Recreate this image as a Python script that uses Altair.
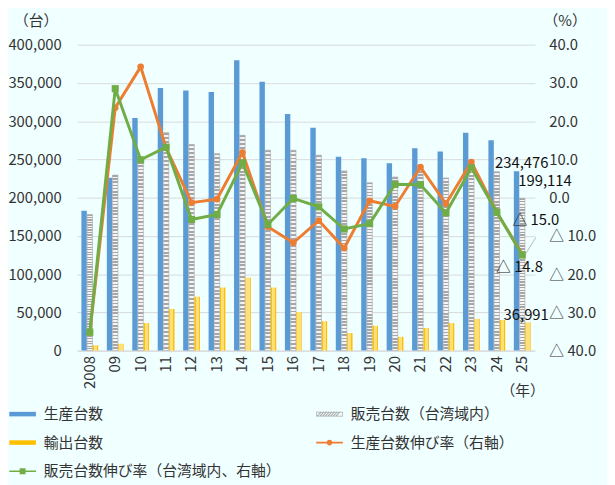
import altair as alt
import pandas as pd

# values
years = ['2008', '09', '10', '11', '12', '13', '14', '15', '16',
         '17', '18', '19', '20', '21', '22', '23', '24', '25']
production = [183000, 226000, 304000, 343500, 340000, 338000, 379500, 351500, 309500,
              291500, 253500, 251500, 245000, 264500, 260500, 285000, 275000, 234476]
sales = [178000, 229500, 251500, 285000, 269500, 257500, 281500, 262000, 262000,
         255500, 235000, 219500, 227000, 235000, 225800, 243000, 234000, 199114]
exports = [7000, 9000, 36000, 54500, 70500, 82500, 95500, 82500, 50500,
           38500, 23000, 32500, 18000, 29500, 36000, 41500, 40000, 36991]
production_growth = [-35.3, 23.5, 34.2, 13.0, -1.3, -0.4, 11.8, -7.6, -11.8,
                     -6.0, -13.2, -0.8, -2.3, 8.0, -1.6, 9.3, -3.8, -14.8]
sales_growth = [-35.2, 28.5, 9.9, 13.2, -5.7, -4.4, 9.1, -7.0, -0.2,
                -2.4, -8.2, -6.8, 3.5, 3.4, -4.0, 7.8, -3.8, -15.0]

S_PROD = '生産台数'
S_SALES = '販売台数（台湾域内）'
S_EXP = '輸出台数'
S_PG = '生産台数伸び率（右軸）'
S_SG = '販売台数伸び率（台湾域内、右軸）'
bar_series = [S_PROD, S_SALES, S_EXP]
legend_series = [S_PROD, S_SALES, S_EXP, S_PG, S_SG]

FONT = 'Noto Sans CJK JP'
TEXT = '#333333'
GRID = '#D9D9D9'
BLUE = '#5B9BD5'
GRAY = '#A6A6A6'
YELLOW = '#FFC000'
ORANGE = '#ED7D31'
GREEN = '#70AD47'

bars_df = pd.concat([
    pd.DataFrame({'year': years, 'series': S_PROD, 'value': production}),
    pd.DataFrame({'year': years, 'series': S_SALES, 'value': sales}),
    pd.DataFrame({'year': years, 'series': S_EXP, 'value': exports}),
], ignore_index=True)

growth_df = pd.concat([
    pd.DataFrame({'year': years, 'series': S_PG, 'value': production_growth}),
    pd.DataFrame({'year': years, 'series': S_SG, 'value': sales_growth}),
], ignore_index=True)


# bar fills: striped gray for sales, light-centred yellow for exports
def stripes(c1, c2, n):
    stops = []
    for i in range(n):
        a, b, c = i / n, (i + 0.5) / n, (i + 1) / n
        stops += [{'offset': round(a, 4), 'color': c1}, {'offset': round(b, 4), 'color': c1},
                  {'offset': round(b, 4), 'color': c2}, {'offset': round(c, 4), 'color': c2}]
    return {'gradient': 'linear', 'x1': 0, 'y1': 0, 'x2': 0, 'y2': 1, 'stops': stops}


hatch = stripes(GRAY, '#F4F4F4', 55)
dotted = {'gradient': 'linear', 'x1': 0, 'y1': 0, 'x2': 1, 'y2': 0, 'stops': [
    {'offset': 0, 'color': YELLOW}, {'offset': 0.2, 'color': YELLOW},
    {'offset': 0.2, 'color': '#FFDF7A'}, {'offset': 0.8, 'color': '#FFDF7A'},
    {'offset': 0.8, 'color': YELLOW}, {'offset': 1, 'color': YELLOW}]}

# legend symbols (custom paths, scaled by the legend symbol size)
rect_path = 'M-1,-0.17H1V0.17H-1Z'
hatch_path = 'M-1,-0.17H1V0.17H-1Z M-0.95,-0.12V0.12H0.95V-0.12Z'
x0 = -0.95
while x0 < 0.62:
    hatch_path += ' M{:.3f},0.12L{:.3f},-0.12L{:.3f},-0.12L{:.3f},0.12Z'.format(
        x0, x0 + 0.24, x0 + 0.34, x0 + 0.1)
    x0 += 0.2
circle_line = 'M-1,-0.06H1V0.06H-1Z M0.22,0A0.22,0.22 0 1,1 -0.22,0A0.22,0.22 0 1,1 0.22,0Z'
square_line = 'M-1,-0.06H1V0.06H-1Z M-0.22,-0.22H0.22V0.22H-0.22Z'

title_style = dict(titleAngle=0, titleAlign='center', titleBaseline='middle',
                   titleFontSize=15, titleFontWeight='normal', titleColor=TEXT, titleFont=FONT)

x_enc = alt.X('year:N', sort=years,
              scale=alt.Scale(paddingInner=0.34, paddingOuter=0.17),
              axis=alt.Axis(labelAngle=270, labelPadding=5, labelFontSize=15, labelColor=TEXT,
                            ticks=False, grid=False, domainColor=GRID, domainWidth=1,
                            labelOverlap=False,
                            title='（年）', titleX=451, titleY=41, **title_style))

y_left = alt.Y('value:Q', scale=alt.Scale(domain=[0, 400000], nice=False),
               axis=alt.Axis(values=list(range(0, 400001, 50000)), format=',.0f',
                             grid=True, gridColor=GRID, gridWidth=1, domain=False, ticks=False,
                             labelOverlap=False,
                             labelPadding=16, labelFontSize=15, labelColor=TEXT,
                             title='（台）', titleX=-42, titleY=-24, **title_style))

y_right = alt.Y('value:Q', scale=alt.Scale(domain=[-40, 40], nice=False),
                axis=alt.Axis(orient='right', values=list(range(-40, 41, 10)), tickCount=9,
                              labelExpr="datum.value < 0 ? '△ ' + format(-datum.value, '.1f') : format(datum.value, '.1f')",
                              grid=False, domain=False, ticks=False, labelOverlap=False,
                              labelPadding=14, labelFontSize=15, labelColor=TEXT,
                              title='（%）', titleX=30, titleY=-24, **title_style))

x_off = alt.XOffset('series:N', scale=alt.Scale(domain=bar_series, paddingInner=0.05, paddingOuter=0))

# left axis group: bars and their labels
left_layers = []
for s, style in [(S_PROD, dict(fill=BLUE)),
                 (S_SALES, dict(fill=hatch, stroke=GRAY, strokeWidth=0.6)),
                 (S_EXP, dict(fill=dotted))]:
    left_layers.append(
        alt.Chart(bars_df).transform_filter(alt.datum.series == s)
        .mark_bar(**style).encode(x=x_enc, xOffset=x_off, y=y_left)
    )

for s, dx, dy in [(S_PROD, -0.5, -8), (S_SALES, 23, -17.5), (S_EXP, 4, -7.3)]:
    left_layers.append(
        alt.Chart(bars_df)
        .transform_filter((alt.datum.series == s) & (alt.datum.year == years[-1]))
        .mark_text(dx=dx, dy=dy, fontSize=15, color='#111111', baseline='middle', font=FONT)
        .encode(x=x_enc, y=y_left, text=alt.Text('value:Q', format=','))
    )

# right axis group: growth lines
right_layers = []
for s, color, shape, size in [(S_PG, ORANGE, 'circle', 45), (S_SG, GREEN, 'square', 52)]:
    right_layers.append(
        alt.Chart(growth_df).transform_filter(alt.datum.series == s)
        .mark_line(color=color, strokeWidth=3).encode(x=x_enc, y=y_right)
    )
    right_layers.append(
        alt.Chart(growth_df).transform_filter(alt.datum.series == s)
        .mark_point(filled=True, shape=shape, size=size, color=color, opacity=1)
        .encode(x=x_enc, y=y_right)
    )

# leader line of the last sales-growth label
right_layers.append(
    alt.Chart(growth_df)
    .transform_filter((alt.datum.series == S_SG) & (alt.datum.year == years[-1]))
    .mark_rule(color='#A6A6A6', strokeWidth=0.8, xOffset=3.8, yOffset=-1.8, x2Offset=13.8, y2Offset=-17.8)
    .encode(x=x_enc, x2=alt.X2('year:N'), y=y_right, y2=alt.Y2('value:Q'))
)

for s, dx, dy in [(S_SG, 13.8, -35.4), (S_PG, -2.8, 13.4)]:
    right_layers.append(
        alt.Chart(growth_df)
        .transform_filter((alt.datum.series == s) & (alt.datum.year == years[-1]))
        .transform_calculate(label="'△ ' + format(-datum.value, '.1f')")
        .mark_text(dx=dx, dy=dy, fontSize=15, color='#111111', baseline='middle', font=FONT)
        .encode(x=x_enc, y=y_right, text='label:N')
    )

legend_def = alt.Legend(title=None, orient='none', legendX=-68.7, legendY=360.6,
                        direction='horizontal', columns=2, columnPadding=35, rowPadding=7.1,
                        padding=0, symbolSize=729, symbolOpacity=1, symbolStrokeWidth=0,
                        labelFont=FONT, labelFontSize=15, labelColor=TEXT,
                        labelOffset=8, labelLimit=400)

right_layers.append(
    alt.Chart(growth_df).mark_point(filled=True, opacity=0).encode(
        x=x_enc, y=y_right,
        color=alt.Color('series:N', scale=alt.Scale(domain=legend_series,
                                                   range=[BLUE, GRAY, YELLOW, ORANGE, GREEN]),
                        legend=legend_def),
        shape=alt.Shape('series:N', scale=alt.Scale(domain=legend_series,
                                                   range=[rect_path, hatch_path, rect_path,
                                                          circle_line, square_line]),
                        legend=legend_def),
    )
)

chart = alt.layer(
    alt.layer(*left_layers),
    alt.layer(*right_layers),
).resolve_scale(
    y='independent'
).properties(
    width=464,
    height=310,
    padding={'left': 70, 'top': 34, 'right': 73, 'bottom': 133},
    autosize=alt.AutoSizeParams(type='none'),
    background='#F0FFFF',
).configure(
    font=FONT
).configure_view(
    stroke=None
)

chart.save('out.html', embed_options={'renderer': 'svg', 'actions': False})
